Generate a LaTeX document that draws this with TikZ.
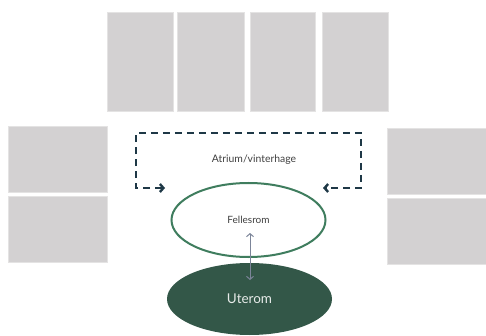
\documentclass[tikz,border=0pt]{standalone}
\usepackage{fontspec}
\setmainfont{Lato}
\usetikzlibrary{arrows.meta,shapes.geometric}

\definecolor{panelgray}{HTML}{D3D1D2}
\definecolor{paneledge}{HTML}{E4E3E3}
\definecolor{dashblue}{HTML}{1E3846}
\definecolor{roomgreen}{HTML}{3F7D5E}
\definecolor{outgreen}{HTML}{335748}
\definecolor{linkgray}{HTML}{7C8599}

\tikzset{
    panel/.style={draw=paneledge, line width=0.6pt, fill=panelgray, inner sep=0pt},
    room/.style={ellipse, inner sep=0pt},
}

\begin{document}
\begin{tikzpicture}[x=1pt, y=-1pt]
    \useasboundingbox (0,0) rectangle (486,336);

    % Panels along the top
    \node[panel, minimum width=66pt, minimum height=99pt] (top1) at (140,61.5) {};
    \node[panel, minimum width=67pt, minimum height=99pt] (top2) at (210.5,61.5) {};
    \node[panel, minimum width=65pt, minimum height=99pt] (top3) at (282.5,61.5) {};
    \node[panel, minimum width=66pt, minimum height=99pt] (top4) at (355,61.5) {};

    % Panels on the left
    \node[panel, minimum width=99pt, minimum height=66pt] (left1) at (57.5,159) {};
    \node[panel, minimum width=99pt, minimum height=66pt] (left2) at (57.5,229) {};

    % Panels on the right
    \node[panel, minimum width=100pt, minimum height=66pt] (right1) at (437,161) {};
    \node[panel, minimum width=100pt, minimum height=66pt] (right2) at (437,231) {};

    % Atrium loop
    \node[font=\fontsize{10.4}{12}\selectfont, text=black!75] (atrium) at (254,160) {Atrium/vinterhage};
    \coordinate (loopL) at (165,188);
    \coordinate (loopR) at (323,188);
    \draw[dashblue, line width=2.4pt, dash pattern=on 7pt off 5pt,
          arrows={Straight Barb[length=3.5pt,width=8pt]-Straight Barb[length=3.5pt,width=8pt]}]
        (loopL) -- (136,188) -- (136,133) -- (361,133) -- (361,188) -- (loopR);

    % Rooms
    \node[room, draw=roomgreen, line width=2pt, fill=white,
          minimum width=154pt, minimum height=74pt,
          font=\fontsize{10}{12}\selectfont, text=black!75] (felles) at (248.5,220) {Fellesrom};
    \node[room, fill=outgreen, minimum width=165pt, minimum height=72pt,
          font=\fontsize{13.5}{16}\selectfont, text=white!88!outgreen] (ute) at (249.5,299) {Uterom};

    % Link between rooms
    \coordinate (linkT) at (250,233);
    \coordinate (linkB) at (250,280);
    \draw[linkgray, line width=1pt, {Straight Barb[length=3pt,width=7pt]}-{Straight Barb[length=3pt,width=7pt]}]
        (linkT) -- (linkB);
\end{tikzpicture}
\end{document}
